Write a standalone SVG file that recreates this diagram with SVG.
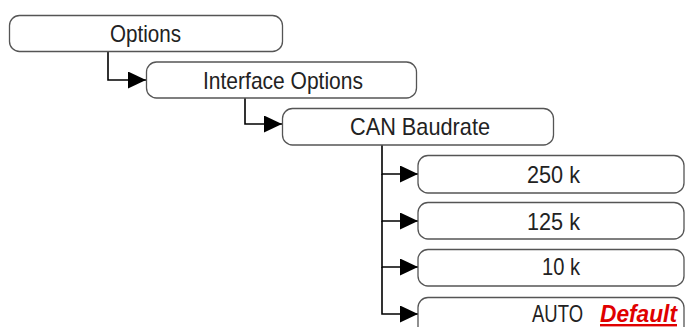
<svg xmlns="http://www.w3.org/2000/svg" width="686" height="327" viewBox="0 0 686 327">
<defs>
<style>
.box{fill:#fff;stroke:#555;stroke-width:1.3}
.t{font-family:"Liberation Sans",Arial,sans-serif;font-size:24px;fill:#222}
.c{fill:none;stroke:#000;stroke-width:1.6}
.d{font-family:"Liberation Sans",Arial,sans-serif;font-size:24px;font-weight:bold;font-style:italic;fill:#e00000;text-decoration:underline}
</style>
<marker id="ah" markerUnits="userSpaceOnUse" markerWidth="19" markerHeight="18" refX="18" refY="8.5" orient="auto" viewBox="0 0 19 18">
<path d="M0,0 L18,8.5 L0,17 z" fill="#000"/>
</marker>
</defs>
<rect width="686" height="327" fill="#fff"/>
<g id="connectors">
<path class="c" d="M108 52 V80 H146" marker-end="url(#ah)"/>
<path class="c" d="M245 98 V124 H282" marker-end="url(#ah)"/>
<path class="c" d="M382 145 V174 H418" marker-end="url(#ah)"/>
<path class="c" d="M382 174 V221 H418" marker-end="url(#ah)"/>
<path class="c" d="M382 221 V267 H418" marker-end="url(#ah)"/>
<path class="c" d="M382 267 V314 H418" marker-end="url(#ah)"/>
</g>
<g id="options">
<rect class="box" x="9.5" y="15.5" width="273" height="36" rx="10"/>
<text class="t" x="110" y="42" textLength="71" lengthAdjust="spacingAndGlyphs">Options</text>
</g>
<g id="interface-options">
<rect class="box" x="146.5" y="62" width="270" height="36" rx="10"/>
<text class="t" x="203" y="89" textLength="160" lengthAdjust="spacingAndGlyphs">Interface Options</text>
</g>
<g id="can-baudrate">
<rect class="box" x="282.5" y="108.5" width="271" height="36.5" rx="10"/>
<text class="t" x="350" y="135" textLength="140" lengthAdjust="spacingAndGlyphs">CAN Baudrate</text>
</g>
<g id="b250">
<rect class="box" x="418" y="155.5" width="266" height="37.5" rx="10"/>
<text class="t" x="527" y="183" textLength="53" lengthAdjust="spacingAndGlyphs">250 k</text>
</g>
<g id="b125">
<rect class="box" x="418" y="202.5" width="266" height="36.5" rx="10"/>
<text class="t" x="527" y="230" textLength="53" lengthAdjust="spacingAndGlyphs">125 k</text>
</g>
<g id="b10">
<rect class="box" x="418" y="249.5" width="266" height="36.5" rx="10"/>
<text class="t" x="542" y="275" textLength="38" lengthAdjust="spacingAndGlyphs">10 k</text>
</g>
<g id="auto">
<rect class="box" x="418" y="297.5" width="266" height="40" rx="10"/>
<text class="t" x="532" y="322" textLength="51" lengthAdjust="spacingAndGlyphs">AUTO</text>
<text class="d" x="600" y="322" textLength="77" lengthAdjust="spacingAndGlyphs">Default</text>
</g>
</svg>
